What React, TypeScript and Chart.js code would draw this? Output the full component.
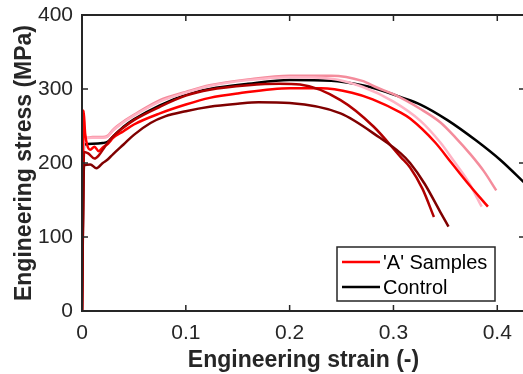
import React, { useEffect, useRef } from "react";
import { Chart, registerables } from "chart.js";

Chart.register(...registerables);

// ---- Data ----
const xTickValues = [0, 0.1, 0.2, 0.3, 0.4];
const xTickLabels = ["0", "0.1", "0.2", "0.3", "0.4"];
const yTickValues = [0, 100, 200, 300, 400];
const yTickLabels = ["0", "100", "200", "300", "400"];

const legendLabels = ["'A' Samples", "Control"];

// Control (black)
const strainControl = [0, 0.002, 0.01, 0.02, 0.025, 0.03, 0.04, 0.05, 0.075, 0.1, 0.123, 0.16, 0.2, 0.24, 0.27, 0.284, 0.307, 0.326, 0.352, 0.38, 0.403, 0.427];
const stressControl = [0, 225, 226, 227, 229, 236, 249, 259, 278, 292, 300, 307, 312, 311, 305, 300, 289, 279, 258, 230, 204, 172];

// 'A' sample 1 (salmon pink)
const strainA1 = [0, 0.002, 0.004, 0.01, 0.02, 0.025, 0.03, 0.04, 0.05, 0.075, 0.1, 0.123, 0.16, 0.2, 0.24, 0.27, 0.284, 0.3, 0.326, 0.345, 0.36, 0.374, 0.387, 0.399];
const stressA1 = [0, 238, 234, 235, 235, 237, 245, 256, 265, 285, 296, 305, 313, 318, 318, 311, 302, 293, 273, 255, 234, 212, 189, 163];

// 'A' sample 2 (light pink)
const strainA2 = [0, 0.002, 0.01, 0.02, 0.025, 0.03, 0.04, 0.05, 0.075, 0.1, 0.123, 0.16, 0.2, 0.24, 0.27, 0.3, 0.326, 0.345, 0.358, 0.372, 0.385];
const stressA2 = [0, 233, 234, 234, 236, 244, 255, 264, 283, 295, 304, 312, 316, 314, 303, 283, 257, 228, 203, 175, 141];

// 'A' sample 3 (red)
const strainA3 = [0, 0.0015, 0.003, 0.005, 0.008, 0.012, 0.016, 0.02, 0.025, 0.03, 0.04, 0.05, 0.075, 0.1, 0.123, 0.15, 0.2, 0.23, 0.26, 0.28, 0.307, 0.316, 0.34, 0.356, 0.372, 0.391];
const stressA3 = [0, 271, 240, 224, 218, 222, 216, 221, 226, 234, 243, 252, 267, 279, 288, 294, 301, 301, 295, 286, 268, 260, 228, 200, 172, 141];

// 'A' sample 4 (dark red)
const strainA4 = [0, 0.002, 0.006, 0.012, 0.016, 0.022, 0.03, 0.04, 0.05, 0.075, 0.1, 0.123, 0.16, 0.19, 0.21, 0.249, 0.281, 0.307, 0.316, 0.328, 0.339];
const stressA4 = [0, 215, 213, 206, 210, 222, 236, 248, 258, 276, 291, 299, 305, 307, 306, 285, 249, 208, 194, 165, 127];

// 'A' sample 5 (maroon)
const strainA5 = [0, 0.002, 0.008, 0.014, 0.02, 0.025, 0.03, 0.04, 0.05, 0.066, 0.08, 0.1, 0.123, 0.15, 0.17, 0.2, 0.249, 0.287, 0.307, 0.316, 0.33, 0.345, 0.353];
const stressA5 = [0, 197, 198, 193, 200, 205, 212, 225, 238, 254, 263, 270, 276, 280, 282, 281, 267, 234, 213, 200, 172, 134, 114];

const toPoints = (xs: number[], ys: number[]) => xs.map((x, i) => ({ x, y: ys[i] }));

const AXIS_COLOR = "#262626";
const FONT = "'Liberation Sans', Arial, Helvetica, sans-serif";

const boxTicksPlugin = {
  id: "boxTicks",
  afterDraw(chart: any) {
    const { ctx, chartArea } = chart;
    const { left, right, top, bottom } = chartArea;
    const xs = chart.scales.x;
    const ys = chart.scales.y;
    ctx.save();
    ctx.strokeStyle = AXIS_COLOR;
    ctx.lineWidth = 2;
    ctx.beginPath();
    ctx.rect(left, top, right - left, bottom - top);
    ctx.stroke();
    ctx.lineWidth = 1.5;
    const tl = 6;
    ctx.beginPath();
    xTickValues.forEach((v) => {
      const px = xs.getPixelForValue(v);
      ctx.moveTo(px, bottom);
      ctx.lineTo(px, bottom - tl);
      ctx.moveTo(px, top);
      ctx.lineTo(px, top + tl);
    });
    yTickValues.forEach((v) => {
      const py = ys.getPixelForValue(v);
      ctx.moveTo(left, py);
      ctx.lineTo(left + tl, py);
      ctx.moveTo(right, py);
      ctx.lineTo(right - tl, py);
    });
    ctx.stroke();

    // Legend box
    const bx0 = left + 255;
    const bx1 = left + 413;
    const by0 = bottom - 64;
    const by1 = bottom - 10;
    ctx.fillStyle = "#ffffff";
    ctx.fillRect(bx0, by0, bx1 - bx0, by1 - by0);
    ctx.lineWidth = 1.5;
    ctx.strokeStyle = AXIS_COLOR;
    ctx.strokeRect(bx0, by0, bx1 - bx0, by1 - by0);
    const legendColors = ["#ff0000", "#000000"];
    const rowY = [by0 + 15, by0 + 40];
    ctx.font = `20px ${FONT}`;
    ctx.textBaseline = "middle";
    ctx.textAlign = "left";
    legendLabels.forEach((lab, i) => {
      ctx.strokeStyle = legendColors[i];
      ctx.lineWidth = 2.5;
      ctx.beginPath();
      ctx.moveTo(bx0 + 5, rowY[i]);
      ctx.lineTo(bx0 + 43, rowY[i]);
      ctx.stroke();
      ctx.fillStyle = "#000000";
      ctx.fillText(lab, bx0 + 46, rowY[i] + 1);
    });
    ctx.restore();
  },
};

export default function App() {
  const canvasRef = useRef<HTMLCanvasElement | null>(null);

  useEffect(() => {
    const canvas = canvasRef.current;
    if (!canvas) return;
    const mk = (xs: number[], ys: number[], color: string) => ({
      data: toPoints(xs, ys),
      borderColor: color,
      backgroundColor: color,
      borderWidth: 2.5,
      pointRadius: 0,
      cubicInterpolationMode: "monotone" as const,
      fill: false,
    });
    const chart = new Chart(canvas, {
      type: "line",
      data: {
        datasets: [
          mk(strainA5, stressA5, "#7f0000"),
          mk(strainA4, stressA4, "#b00000"),
          mk(strainA3, stressA3, "#ff0000"),
          mk(strainA2, stressA2, "#ffb3c4"),
          mk(strainA1, stressA1, "#f48c9c"),
          mk(strainControl, stressControl, "#000000"),
        ],
      },
      options: {
        responsive: false,
        animation: false,
        parsing: false as any,
        layout: { padding: { top: 15, right: 5, left: 0, bottom: 0 } },
        plugins: {
          legend: { display: false },
          tooltip: { enabled: false },
        },
        scales: {
          x: {
            type: "linear",
            min: 0,
            max: 0.4267,
            grid: { display: false, drawTicks: false },
            border: { display: false },
            afterBuildTicks: (scale: any) => {
              scale.ticks = xTickValues.map((v) => ({ value: v }));
            },
            afterFit: (scale: any) => {
              scale.height = 63;
              scale.paddingLeft = 0;
              scale.paddingRight = 0;
            },
            ticks: {
              autoSkip: false,
              maxRotation: 0,
              padding: 10,
              color: AXIS_COLOR,
              font: { family: FONT, size: 21 },
              callback: (v: any) => {
                const i = xTickValues.findIndex((t) => Math.abs(t - Number(v)) < 1e-9);
                return i >= 0 ? xTickLabels[i] : "";
              },
            },
            title: {
              display: true,
              text: "Engineering strain (-)",
              color: AXIS_COLOR,
              font: { family: FONT, size: 23, weight: "bold" },
              padding: { top: 0, bottom: 0 },
            },
          },
          y: {
            type: "linear",
            min: 0,
            max: 400,
            grid: { display: false, drawTicks: false },
            border: { display: false },
            afterBuildTicks: (scale: any) => {
              scale.ticks = yTickValues.map((v) => ({ value: v }));
            },
            afterFit: (scale: any) => {
              scale.width = 82;
              scale.paddingTop = 0;
              scale.paddingBottom = 0;
            },
            ticks: {
              autoSkip: false,
              padding: 9,
              color: AXIS_COLOR,
              font: { family: FONT, size: 21 },
              callback: (v: any) => {
                const i = yTickValues.findIndex((t) => Math.abs(t - Number(v)) < 1e-9);
                return i >= 0 ? yTickLabels[i] : "";
              },
            },
            title: {
              display: true,
              text: "Engineering stress (MPa)",
              color: AXIS_COLOR,
              font: { family: FONT, size: 23, weight: "bold" },
              padding: { top: 11, bottom: 0 },
            },
          },
        },
      },
      plugins: [boxTicksPlugin],
    });
    return () => chart.destroy();
  }, []);

  return (
    <div style={{ position: "fixed", left: 0, top: 0, width: 530, height: 374, background: "#fff" }}>
      <canvas ref={canvasRef} width={530} height={374} style={{ display: "block" }} />
    </div>
  );
}
